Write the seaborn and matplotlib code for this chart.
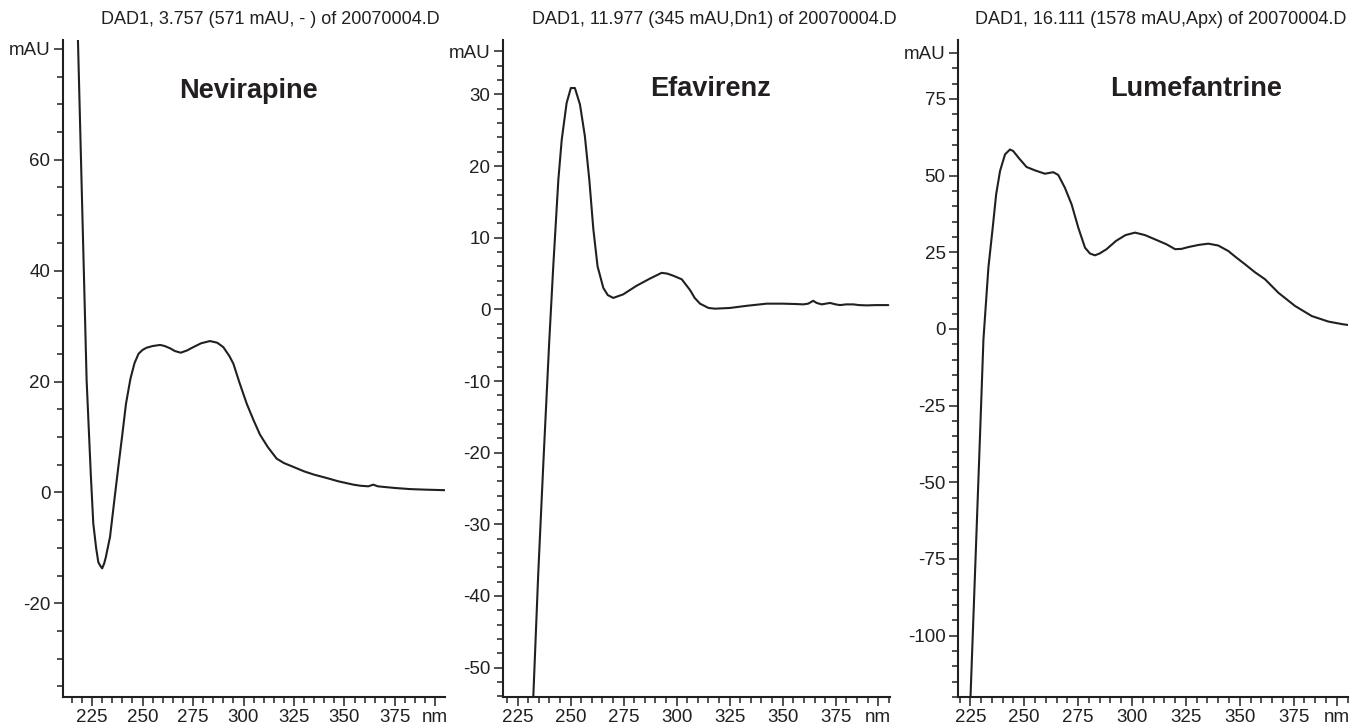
import matplotlib
matplotlib.use("Agg")
import matplotlib.pyplot as plt
from matplotlib.ticker import FixedLocator, MultipleLocator
import numpy as np
import pandas as pd
import seaborn as sns

# UV spectra (DAD1) of three drug peaks, wavelength in nm, absorbance in mAU
nevirapine_nm = [217.0, 219.4, 222.3, 224.4, 225.6, 227.0, 228.1, 229.2, 230.0, 231.0,
                 231.8, 233.9, 236.0, 238.0, 240.0, 241.8, 244.0, 246.0, 248.0, 250.0,
                 252.0, 255.0, 258.7, 261.0, 263.6, 266.0, 268.9, 272.0, 275.1, 279.0,
                 283.4, 287.0, 290.0, 293.0, 295.0, 298.0, 301.6, 305.0, 308.2, 312.0,
                 316.4, 320.0, 324.7, 330.0, 335.0, 341.2, 347.0, 354.4, 358.0, 361.8,
                 364.3, 366.5, 369.2, 375.0, 382.4, 390.0, 395.0, 399.8]
nevirapine_mau = [96.0, 61.6, 20.2, 3.0, -5.6, -10.0, -12.6, -13.3, -13.7, -12.8,
                  -11.7, -8.0, -1.5, 4.6, 10.5, 16.0, 20.5, 23.3, 25.0, 25.7,
                  26.1, 26.4, 26.6, 26.4, 26.0, 25.5, 25.2, 25.6, 26.2, 26.9,
                  27.3, 27.0, 26.2, 24.6, 23.2, 19.8, 16.0, 13.0, 10.4, 8.2,
                  6.1, 5.3, 4.6, 3.8, 3.2, 2.6, 2.0, 1.4, 1.2, 1.1,
                  1.4, 1.1, 1.0, 0.8, 0.6, 0.5, 0.45, 0.4]

efavirenz_nm = [231.5, 232.4, 234.7, 237.2, 239.9, 241.8, 244.2, 245.8, 248.1, 250.1,
                252.0, 254.4, 256.7, 258.8, 260.7, 262.7, 265.4, 267.5, 270.1, 274.8,
                281.1, 287.4, 292.9, 295.5, 298.4, 302.4, 306.3, 308.5, 311.0, 315.0,
                318.1, 325.1, 333.0, 342.4, 350.0, 356.0, 359.7, 362.0, 364.4, 366.0,
                368.4, 372.3, 375.0, 377.0, 380.0, 383.3, 386.0, 389.6, 394.0, 399.8]
efavirenz_mau = [-59.8, -54.0, -37.0, -21.0, -4.5, 6.0, 18.1, 23.7, 28.8, 30.9,
                 30.9, 28.6, 24.2, 18.1, 11.2, 6.0, 3.0, 2.0, 1.6, 2.1,
                 3.3, 4.3, 5.1, 5.0, 4.7, 4.2, 2.7, 1.6, 0.8, 0.2,
                 0.1, 0.2, 0.5, 0.8, 0.8, 0.75, 0.7, 0.8, 1.2, 0.9,
                 0.7, 0.9, 0.7, 0.6, 0.7, 0.7, 0.6, 0.56, 0.6, 0.6]

lumefantrine_nm = [224.5, 225.1, 227.4, 229.5, 231.1, 233.4, 235.4, 237.0, 238.8, 241.1,
                   243.4, 244.9, 248.0, 251.1, 255.0, 259.6, 263.5, 265.8, 268.9, 272.0,
                   275.1, 278.2, 280.5, 282.8, 285.0, 288.2, 292.6, 297.0, 301.4, 306.0,
                   310.7, 316.0, 320.0, 323.0, 326.2, 331.0, 335.4, 340.0, 344.7, 348.0,
                   352.4, 357.0, 361.7, 367.9, 375.6, 383.4, 391.1, 398.0, 400.2]
lumefantrine_mau = [-131.6, -120.0, -75.6, -35.0, -3.4, 20.0, 33.0, 43.9, 51.5, 56.9,
                    58.5, 58.0, 55.3, 52.8, 51.7, 50.6, 51.1, 50.2, 46.0, 40.6,
                    33.0, 26.5, 24.6, 24.0, 24.6, 26.0, 28.7, 30.6, 31.4, 30.6,
                    29.2, 27.6, 26.0, 26.1, 26.7, 27.4, 27.8, 27.2, 25.4, 23.5,
                    21.1, 18.5, 16.2, 11.8, 7.5, 4.2, 2.4, 1.5, 1.3]

compounds = ["Nevirapine", "Efavirenz", "Lumefantrine"]
headers = ["DAD1, 3.757 (571 mAU, - ) of 20070004.D",
           "DAD1, 11.977 (345 mAU,Dn1) of 20070004.D",
           "DAD1, 16.111 (1578 mAU,Apx) of 20070004.D"]
x_major = [225, 250, 275, 300, 325, 350, 375]
y_major = [[-20, 0, 20, 40, 60], [-50, -40, -30, -20, -10, 0, 10, 20, 30],
           [-100, -75, -50, -25, 0, 25, 50, 75]]
y_unit_pos = [80, 36, 90]

sns.set_theme(style="ticks")
plt.rcParams["font.family"] = ["Liberation Sans", "DejaVu Sans"]

ink = "#231f20"
W, H = 1360, 725
fig = plt.figure(figsize=(13.6, 7.25), dpi=100)

# axes boxes in pixels: left, right, top, bottom
boxes = [(63, 445, 40, 697), (503, 890, 40, 697), (958, 1348, 40, 697)]
xlims = [(210.6, 399.8), (218.1, 400.6), (219.3, 400.2)]
ylims = [(-36.9, 81.6), (-54.1, 37.6), (-120.0, 94.2)]
y_minor = [5, 2, 5]
header_x = [270, 714, 1161]
name_pos = [(248, 91), (711, 89), (1196, 89)]

series = [(nevirapine_nm, nevirapine_mau), (efavirenz_nm, efavirenz_mau),
          (lumefantrine_nm, lumefantrine_mau)]

for i, (nm, mau) in enumerate(series):
    l, r, t, b = boxes[i]
    ax = fig.add_axes([l / W, 1 - b / H, (r - l) / W, (b - t) / H])
    df = pd.DataFrame({"nm": nm, "mAU": mau})
    sns.lineplot(data=df, x="nm", y="mAU", ax=ax, color=ink, linewidth=1.5,
                 estimator=None, sort=False)
    ax.set_xlim(*xlims[i])
    ax.set_ylim(*ylims[i])
    ax.set_xlabel("")
    ax.set_ylabel("")
    sns.despine(ax=ax)
    for s in ("left", "bottom"):
        ax.spines[s].set_linewidth(1.5)
        ax.spines[s].set_color(ink)

    xt = x_major + [395]
    ax.xaxis.set_major_locator(FixedLocator(xt))
    ax.set_xticklabels([str(v) for v in x_major] + ["nm"])
    ax.xaxis.set_minor_locator(MultipleLocator(5))

    yt = y_major[i] + [y_unit_pos[i]]
    ax.yaxis.set_major_locator(FixedLocator(yt))
    ax.set_yticklabels([str(v) for v in y_major[i]] + ["mAU"])
    ax.yaxis.set_minor_locator(MultipleLocator(y_minor[i]))

    ax.tick_params(axis="both", which="major", length=6.5, width=1.1, color=ink,
                   labelsize=13.5, labelcolor=ink, pad=2.5)
    ax.tick_params(axis="both", which="minor", length=4, width=1.1, color=ink)
    ax.patch.set_alpha(0)

    fig.text(header_x[i] / W, 1 - 20 / H, headers[i], ha="center", va="center",
             fontsize=13, color=ink)
    px, py = name_pos[i]
    fig.text(px / W, 1 - py / H, compounds[i], ha="center", va="center",
             fontsize=19.5, fontweight="bold", color=ink)

fig.savefig("out.png", dpi=100, facecolor="white")
